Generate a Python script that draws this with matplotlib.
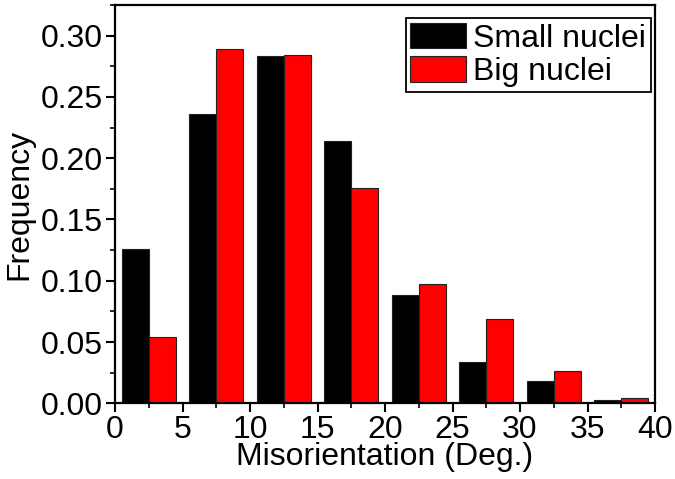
import numpy as np
import matplotlib.pyplot as plt
from matplotlib.ticker import MultipleLocator

# dati
bin_start = np.array([0, 5, 10, 15, 20, 25, 30, 35])
small_nuclei = [0.126, 0.236, 0.283, 0.214, 0.088, 0.034, 0.018, 0.003]
big_nuclei = [0.054, 0.289, 0.284, 0.176, 0.097, 0.069, 0.026, 0.004]
labels = ['Small nuclei', 'Big nuclei']

plt.rcParams['font.family'] = ['Liberation Sans', 'DejaVu Sans']
fs = 23

fig = plt.figure(figsize=(6.75, 4.79), dpi=100)
ax = fig.add_axes([0.1704, 0.158, 0.80, 0.8316])

w = 2.0
ax.bar(bin_start + 0.5, small_nuclei, width=w, align='edge', color='black',
       edgecolor='#222222', linewidth=0.8, label=labels[0])
ax.bar(bin_start + 2.5, big_nuclei, width=w, align='edge', color='#ff0000',
       edgecolor='#222222', linewidth=0.8, label=labels[1])

ax.set_xlim(0, 40)
ax.set_ylim(0, 0.325)
ax.xaxis.set_major_locator(MultipleLocator(5))
ax.xaxis.set_minor_locator(MultipleLocator(2.5))
ax.yaxis.set_major_locator(MultipleLocator(0.05))
ax.yaxis.set_minor_locator(MultipleLocator(0.025))
ax.yaxis.set_major_formatter(plt.FormatStrFormatter('%.2f'))

ax.tick_params(which='major', direction='out', length=6.5, width=1.5,
               labelsize=fs, pad=2)
ax.tick_params(which='minor', direction='out', length=3.5, width=1.2)
for s in ax.spines.values():
    s.set_linewidth(1.6)

ax.set_xlabel('Misorientation (Deg.)', fontsize=fs, labelpad=-2)
ax.set_ylabel('Frequency', fontsize=fs, labelpad=5)

leg = ax.legend(loc='upper right', bbox_to_anchor=(0.9926, 0.967),
                borderaxespad=0, fontsize=fs, frameon=True, fancybox=False,
                handlelength=1.75, handleheight=0.85, handletextpad=0.22,
                borderpad=0.15, labelspacing=0.08)
leg.get_frame().set_edgecolor('black')
leg.get_frame().set_linewidth(1.3)
leg.get_frame().set_alpha(1)

fig.savefig('out.png', dpi=100)
